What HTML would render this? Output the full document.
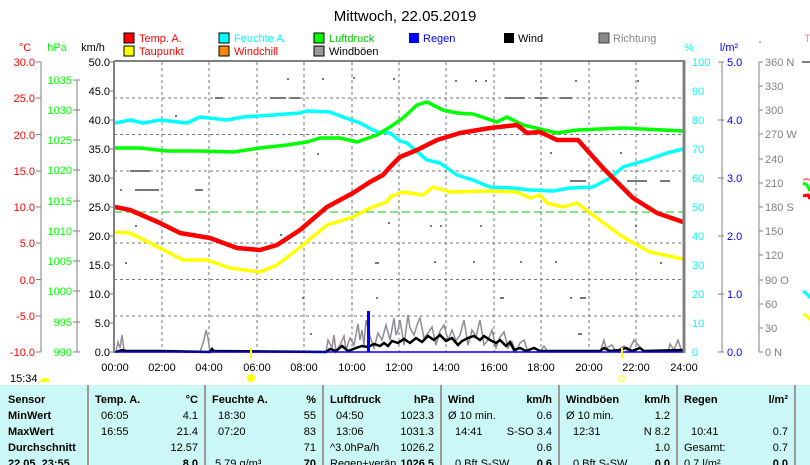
<!DOCTYPE html>
<html><head><meta charset="utf-8"><style>
body{margin:0;background:#fff;width:810px;height:465px;overflow:hidden;font-family:"Liberation Sans",sans-serif}
svg{position:absolute;left:0;top:0}
</style></head><body>
<svg width="810" height="465" xmlns="http://www.w3.org/2000/svg" font-family="Liberation Sans, sans-serif">
<rect width="810" height="465" fill="#fff"/>
<text x="405" y="21" font-size="15" text-anchor="middle">Mittwoch, 22.05.2019</text>
<!-- legend -->
<g font-size="11">
<rect x="124" y="33" width="10" height="10" fill="#f00" stroke="#000"/><text x="139" y="42" fill="#f00">Temp. A.</text>
<rect x="219" y="33" width="10" height="10" fill="#0ff" stroke="#000"/><text x="234" y="42" fill="#0ff">Feuchte A.</text>
<rect x="314" y="33" width="10" height="10" fill="#0f0" stroke="#000"/><text x="329" y="42" fill="#0c0">Luftdruck</text>
<rect x="409" y="33" width="10" height="10" fill="#00f"/><text x="423" y="42" fill="#00f">Regen</text>
<rect x="504" y="33" width="10" height="10" fill="#000"/><text x="518" y="42">Wind</text>
<rect x="599" y="33" width="10" height="10" fill="#888" stroke="#444"/><text x="613" y="42" fill="#888">Richtung</text>
<rect x="124" y="46" width="10" height="10" fill="#ff0" stroke="#000"/><text x="139" y="55" fill="#f00">Taupunkt</text>
<rect x="219" y="46" width="10" height="10" fill="#f80" stroke="#000"/><text x="234" y="55" fill="#f00">Windchill</text>
<rect x="314" y="46" width="10" height="10" fill="#999" stroke="#000"/><text x="329" y="55">Windböen</text>
</g>
<g font-size="11">
<text x="25" y="51" fill="#f00" text-anchor="middle">°C</text>
<text x="57" y="51" fill="#0f0" text-anchor="middle">hPa</text>
<text x="93" y="51" text-anchor="middle">km/h</text>
<text x="689" y="51" fill="#0ff" text-anchor="middle">%</text>
<text x="729" y="51" fill="#00f" text-anchor="middle">l/m²</text>
<text x="760" y="47" fill="#888" font-size="8" text-anchor="middle">°</text>
<text x="804" y="42" fill="#f88">T</text>
</g>
<!-- gridlines -->
<g stroke="#777" stroke-dasharray="3,3" stroke-width="1">
<line x1="162" y1="62" x2="162" y2="352"/><line x1="209" y1="62" x2="209" y2="352"/><line x1="257" y1="62" x2="257" y2="352"/><line x1="304" y1="62" x2="304" y2="352"/><line x1="352" y1="62" x2="352" y2="352"/><line x1="399" y1="62" x2="399" y2="352"/><line x1="446" y1="62" x2="446" y2="352"/><line x1="494" y1="62" x2="494" y2="352"/><line x1="541" y1="62" x2="541" y2="352"/><line x1="589" y1="62" x2="589" y2="352"/><line x1="636" y1="62" x2="636" y2="352"/>
<line x1="114" y1="98" x2="684" y2="98"/><line x1="114" y1="134.5" x2="684" y2="134.5"/><line x1="114" y1="171" x2="684" y2="171"/><line x1="114" y1="243" x2="684" y2="243"/><line x1="114" y1="279.5" x2="684" y2="279.5"/><line x1="114" y1="316" x2="684" y2="316"/>
</g>
<line x1="114" y1="212" x2="684" y2="212" stroke="#0c0" stroke-dasharray="8,4"/>
<!-- direction dots -->
<g fill="#777">
<rect x="287" y="78" width="2" height="2"/><rect x="322" y="78" width="2" height="2"/><rect x="353" y="77" width="2" height="2"/><rect x="393" y="78" width="2" height="2"/><rect x="455" y="80" width="2" height="2"/><rect x="475" y="80" width="2" height="2"/><rect x="485" y="80" width="2" height="2"/><rect x="575" y="80" width="2" height="2"/><rect x="637" y="80" width="2" height="2"/>
<rect x="215" y="97" width="8" height="2"/><rect x="270" y="97" width="16" height="2"/><rect x="290" y="97" width="10" height="2"/><rect x="505" y="97" width="20" height="2"/><rect x="535" y="97" width="12" height="2"/><rect x="560" y="97" width="12" height="2"/>
<rect x="175" y="115" width="2" height="2"/><rect x="317" y="153" width="2" height="2"/><rect x="130" y="170" width="20" height="2"/><rect x="120" y="189" width="2" height="2"/><rect x="135" y="189" width="24" height="2"/><rect x="195" y="189" width="8" height="2"/><rect x="550" y="152" width="2" height="2"/><rect x="620" y="152" width="2" height="2"/><rect x="570" y="180" width="16" height="2"/><rect x="627" y="180" width="20" height="2"/><rect x="660" y="180" width="10" height="2"/>
<rect x="135" y="225" width="2" height="2"/><rect x="280" y="234" width="2" height="2"/><rect x="388" y="222" width="2" height="2"/><rect x="430" y="225" width="2" height="2"/><rect x="440" y="225" width="2" height="2"/><rect x="480" y="225" width="2" height="2"/><rect x="635" y="225" width="2" height="2"/>
<rect x="125" y="262" width="2" height="2"/><rect x="375" y="262" width="4" height="2"/><rect x="434" y="261" width="2" height="2"/><rect x="473" y="261" width="2" height="2"/><rect x="520" y="261" width="2" height="2"/><rect x="555" y="261" width="2" height="2"/><rect x="660" y="262" width="2" height="2"/>
<rect x="302" y="297" width="2" height="2"/><rect x="376" y="297" width="2" height="2"/><rect x="500" y="297" width="4" height="2"/><rect x="580" y="297" width="6" height="2"/><rect x="570" y="297" width="2" height="2"/><rect x="310" y="333" width="2" height="2"/><rect x="578" y="333" width="4" height="2"/>
</g>
<!-- gusts -->
<polyline fill="none" stroke="#918a94" stroke-width="1.5" points="116,352 118,342 120,348 122,335 124,350 126,352 200,352 204,340 206,330 208,338 210,352 326,352 328,340 332,348 334,335 336,352 340,345 344,336 346,350 350,338 354,345 358,324 360,340 362,330 364,345 366,320 370,336 374,348 378,333 382,340 386,325 390,340 394,318 396,335 398,330 400,320 404,345 408,315 410,328 414,335 418,322 420,318 424,338 428,333 432,327 436,345 440,331 444,325 448,340 452,330 456,341 460,335 464,320 468,345 472,330 476,337 480,320 484,345 488,340 492,330 496,348 500,337 504,332 508,348 512,342 516,352 520,343 524,340 528,352 540,352 544,346 548,352 600,352 604,340 606,348 612,345 616,352 624,346 628,352 634,340 640,347 644,352 668,352 670,344 674,350 678,340 680,346 682,352"/>
<!-- wind -->
<polyline fill="none" stroke="#000" stroke-width="2.5" points="116,352 122,350 126,351 160,351 210,352 212,349 214,351 326,352 330,349 336,351 342,346 348,351 356,348 362,346 368,347 374,344 380,346 384,343 388,346 392,341 398,343 404,339 410,343 416,338 422,342 428,336 434,340 440,335 446,341 452,338 458,345 462,341 468,338 474,336 480,340 484,336 490,340 496,343 500,340 506,346 510,342 514,350 520,348 526,351 534,348 540,351 600,351 604,348 610,351 620,350 626,348 632,351 640,348 644,351 684,350"/>
<line x1="114" y1="352" x2="684" y2="352" stroke="#00f" stroke-width="1.5"/>
<rect x="367" y="311" width="3" height="41" fill="#00f"/>
<!-- humidity -->
<polyline fill="none" stroke="#0ff" stroke-width="3.5" stroke-linejoin="round" points="115,123 130,120 143,123 160,120 187,123 200,117 227,120 243,117 273,115 300,113 307,111 330,112 343,117 360,123 377,132 390,133 400,141 407,143 427,160 440,163 457,175 473,180 490,187 513,188 530,190 553,191 570,188 593,187 610,178 623,167 647,160 667,153 683,149"/>
<!-- pressure -->
<polyline fill="none" stroke="#0f0" stroke-width="3.5" stroke-linejoin="round" points="115,148 140,148 167,151 200,151 233,152 260,148 287,145 307,142 320,138 340,138 357,142 377,135 390,127 393,125 403,118 417,105 427,102 443,110 457,113 473,114 497,122 507,117 523,125 557,133 577,130 623,128 683,131"/>
<!-- dew -->
<polyline fill="none" stroke="#ff0" stroke-width="3.5" stroke-linejoin="round" points="115,232 130,233 160,248 183,260 207,260 230,268 260,272 277,265 303,245 327,225 353,217 370,208 387,202 390,197 403,192 423,195 433,187 450,192 490,191 517,192 530,198 540,195 547,203 563,207 577,203 597,218 623,237 650,252 683,259"/>
<!-- temp -->
<polyline fill="none" stroke="#f00" stroke-width="4.5" stroke-linejoin="round" points="115,207 130,210 160,223 180,233 210,238 237,248 260,250 277,245 300,230 327,207 353,193 370,182 383,175 390,167 400,157 417,150 437,140 460,133 490,128 517,125 527,133 540,132 557,140 578,140 603,168 633,198 657,213 683,222"/>
<!-- plot border -->
<line x1="114" y1="61" x2="685" y2="61" stroke="#808080" stroke-width="2"/>
<line x1="114" y1="61" x2="114" y2="353" stroke="#808080" stroke-width="2"/>
<line x1="684" y1="61" x2="684" y2="353" stroke="#808080" stroke-width="3"/>
<!-- axes -->
<g stroke="#808080" stroke-width="1">
<line x1="41" y1="62" x2="41" y2="352"/><line x1="77" y1="80" x2="77" y2="352"/>
<line x1="722" y1="62" x2="722" y2="352"/><line x1="759" y1="62" x2="759" y2="352"/>
</g>
<g font-size="11" fill="#f00" text-anchor="end">
<text x="35" y="66">30.0</text><text x="35" y="102">25.0</text><text x="35" y="139">20.0</text><text x="35" y="175">15.0</text><text x="35" y="211">10.0</text><text x="35" y="247">5.0</text><text x="35" y="284">0.0</text><text x="35" y="320">-5.0</text><text x="35" y="356">-10.0</text>
</g>
<g stroke="#808080"><line x1="36" y1="62" x2="41" y2="62"/><line x1="36" y1="98" x2="41" y2="98"/><line x1="36" y1="134.5" x2="41" y2="134.5"/><line x1="36" y1="171" x2="41" y2="171"/><line x1="36" y1="207" x2="41" y2="207"/><line x1="36" y1="243" x2="41" y2="243"/><line x1="36" y1="279.5" x2="41" y2="279.5"/><line x1="36" y1="316" x2="41" y2="316"/><line x1="36" y1="352" x2="41" y2="352"/></g>
<g font-size="11" fill="#0f0" text-anchor="end">
<text x="72" y="84">1035</text><text x="72" y="114">1030</text><text x="72" y="144">1025</text><text x="72" y="174">1020</text><text x="72" y="205">1015</text><text x="72" y="235">1010</text><text x="72" y="265">1005</text><text x="72" y="295">1000</text><text x="72" y="326">995</text><text x="72" y="356">990</text>
</g>
<g stroke="#808080"><line x1="73" y1="80" x2="80" y2="80"/><line x1="73" y1="110" x2="80" y2="110"/><line x1="73" y1="140" x2="80" y2="140"/><line x1="73" y1="170" x2="80" y2="170"/><line x1="73" y1="201" x2="80" y2="201"/><line x1="73" y1="231" x2="80" y2="231"/><line x1="73" y1="261" x2="80" y2="261"/><line x1="73" y1="291" x2="80" y2="291"/><line x1="73" y1="322" x2="80" y2="322"/><line x1="73" y1="352" x2="80" y2="352"/></g>
<g font-size="11" fill="#000" text-anchor="end">
<text x="110" y="66">50.0</text><text x="110" y="95">45.0</text><text x="110" y="124">40.0</text><text x="110" y="153">35.0</text><text x="110" y="182">30.0</text><text x="110" y="211">25.0</text><text x="110" y="240">20.0</text><text x="110" y="269">15.0</text><text x="110" y="298">10.0</text><text x="110" y="327">5.0</text><text x="110" y="356">0.0</text>
</g>
<g stroke="#808080"><line x1="110" y1="62" x2="114" y2="62"/><line x1="110" y1="91" x2="114" y2="91"/><line x1="110" y1="120" x2="114" y2="120"/><line x1="110" y1="149" x2="114" y2="149"/><line x1="110" y1="178" x2="114" y2="178"/><line x1="110" y1="207" x2="114" y2="207"/><line x1="110" y1="236" x2="114" y2="236"/><line x1="110" y1="265" x2="114" y2="265"/><line x1="110" y1="294" x2="114" y2="294"/><line x1="110" y1="323" x2="114" y2="323"/><line x1="110" y1="352" x2="114" y2="352"/></g>
<g font-size="11" fill="#0ff">
<text x="692" y="66">100</text><text x="692" y="95">90</text><text x="692" y="124">80</text><text x="692" y="153">70</text><text x="692" y="182">60</text><text x="692" y="211">50</text><text x="692" y="240">40</text><text x="692" y="269">30</text><text x="692" y="298">20</text><text x="692" y="327">10</text><text x="692" y="356">0</text>
</g>
<g font-size="11" fill="#00f">
<text x="727" y="66">5.0</text><text x="727" y="124">4.0</text><text x="727" y="182">3.0</text><text x="727" y="240">2.0</text><text x="727" y="298">1.0</text><text x="727" y="356">0.0</text>
</g>
<g stroke="#808080"><line x1="718" y1="62" x2="724" y2="62"/><line x1="718" y1="120" x2="724" y2="120"/><line x1="718" y1="178" x2="724" y2="178"/><line x1="718" y1="236" x2="724" y2="236"/><line x1="718" y1="294" x2="724" y2="294"/><line x1="718" y1="352" x2="724" y2="352"/>
<line x1="759" y1="62" x2="763" y2="62"/><line x1="759" y1="86" x2="763" y2="86"/><line x1="759" y1="110" x2="763" y2="110"/><line x1="759" y1="134" x2="763" y2="134"/><line x1="759" y1="159" x2="763" y2="159"/><line x1="759" y1="183" x2="763" y2="183"/><line x1="759" y1="207" x2="763" y2="207"/><line x1="759" y1="231" x2="763" y2="231"/><line x1="759" y1="255" x2="763" y2="255"/><line x1="759" y1="280" x2="763" y2="280"/><line x1="759" y1="304" x2="763" y2="304"/><line x1="759" y1="328" x2="763" y2="328"/><line x1="759" y1="352" x2="763" y2="352"/></g>
<g font-size="11" fill="#808080">
<text x="765" y="66">360 N</text><text x="765" y="90">330</text><text x="765" y="114">300</text><text x="765" y="138">270 W</text><text x="765" y="163">240</text><text x="765" y="187">210</text><text x="765" y="211">180 S</text><text x="765" y="235">150</text><text x="765" y="259">120</text><text x="765" y="284">90  O</text><text x="765" y="308">60</text><text x="765" y="332">30</text><text x="765" y="356">0   N</text>
</g>
<!-- right edge bits -->
<rect x="802" y="61" width="8" height="2" fill="#808080"/>
<path d="M803 180 q3 -2 7 0" stroke="#f88" stroke-width="2" fill="none"/>
<path d="M803 183 l4 2 l3 6" stroke="#0f0" stroke-width="3" fill="none"/>
<path d="M803 196 l5 -1 l2 4" stroke="#f00" stroke-width="3" fill="none"/>
<path d="M803 291 l4 3 l3 4" stroke="#0ff" stroke-width="3" fill="none"/>
<path d="M803 314 l4 2 l3 4" stroke="#ff0" stroke-width="3" fill="none"/>
<!-- time labels -->
<g font-size="11" text-anchor="middle">
<text x="115" y="371">00:00</text><text x="162" y="371">02:00</text><text x="209" y="371">04:00</text><text x="257" y="371">06:00</text><text x="304" y="371">08:00</text><text x="352" y="371">10:00</text><text x="399" y="371">12:00</text><text x="446" y="371">14:00</text><text x="494" y="371">16:00</text><text x="541" y="371">18:00</text><text x="589" y="371">20:00</text><text x="636" y="371">22:00</text><text x="684" y="371">24:00</text>
</g>
<rect x="250" y="348" width="2" height="10" fill="#ff0"/>
<rect x="621" y="348" width="2" height="10" fill="#ff0"/>
<circle cx="251" cy="378" r="4" fill="#ff0"/>
<rect x="619" y="376" width="5" height="5" fill="none" stroke="#ff0"/>
<text x="10" y="382" font-size="11">15:34</text>
<path d="M40 382 a5 4 0 0 1 10 0 z" fill="#ff0"/>
<!-- table -->
<rect x="0" y="385" width="810" height="80" fill="#ccf7f7"/>
<g stroke="#999" stroke-width="2"><line x1="88" y1="385" x2="88" y2="465"/><line x1="205" y1="385" x2="205" y2="465"/><line x1="323" y1="385" x2="323" y2="465"/><line x1="441" y1="385" x2="441" y2="465"/><line x1="559" y1="385" x2="559" y2="465"/><line x1="677" y1="385" x2="677" y2="465"/><line x1="795" y1="385" x2="795" y2="465"/></g>
<g font-size="11">
<g font-weight="bold"><text x="8" y="403">Sensor</text><text x="8" y="419">MinWert</text><text x="8" y="435">MaxWert</text><text x="8" y="451">Durchschnitt</text><text x="8" y="467">22.05. 23:55</text>
<text x="95" y="403">Temp. A.</text><text x="212" y="403">Feuchte A.</text><text x="330" y="403">Luftdruck</text><text x="448" y="403">Wind</text><text x="566" y="403">Windböen</text><text x="684" y="403">Regen</text></g>
<g text-anchor="end" font-weight="bold"><text x="198" y="403">°C</text><text x="316" y="403">%</text><text x="434" y="403">hPa</text><text x="552" y="403">km/h</text><text x="670" y="403">km/h</text><text x="788" y="403">l/m²</text>
<text x="198" y="467">8.0</text><text x="316" y="467">70</text><text x="434" y="467">1026.5</text><text x="552" y="467">0.6</text><text x="670" y="467">0.0</text><text x="788" y="467">0.0</text></g>
<text x="101" y="419">06:05</text><text x="101" y="435">16:55</text>
<text x="218" y="419">18:30</text><text x="218" y="435">07:20</text><text x="215" y="467">5.79 g/m³</text>
<text x="336" y="419">04:50</text><text x="336" y="435">13:06</text><text x="330" y="451">^3.0hPa/h</text><text x="330" y="467">Regen+verän</text>
<text x="448" y="419">Ø 10 min.</text><text x="455" y="435">14:41</text><text x="455" y="467">0 Bft S-SW</text>
<text x="566" y="419">Ø 10 min.</text><text x="573" y="435">12:31</text><text x="573" y="467">0 Bft S-SW</text>
<text x="691" y="435">10:41</text><text x="684" y="451">Gesamt:</text><text x="684" y="467">0.7 l/m²</text>
<g text-anchor="end"><text x="198" y="419">4.1</text><text x="198" y="435">21.4</text><text x="198" y="451">12.57</text>
<text x="316" y="419">55</text><text x="316" y="435">83</text><text x="316" y="451">71</text>
<text x="434" y="419">1023.3</text><text x="434" y="435">1031.3</text><text x="434" y="451">1026.2</text>
<text x="552" y="419">0.6</text><text x="552" y="435">S-SO 3.4</text><text x="552" y="451">0.6</text>
<text x="670" y="419">1.2</text><text x="670" y="435">N 8.2</text><text x="670" y="451">1.0</text>
<text x="788" y="435">0.7</text><text x="788" y="451">0.7</text></g>
</g>
</svg>
</body></html>
